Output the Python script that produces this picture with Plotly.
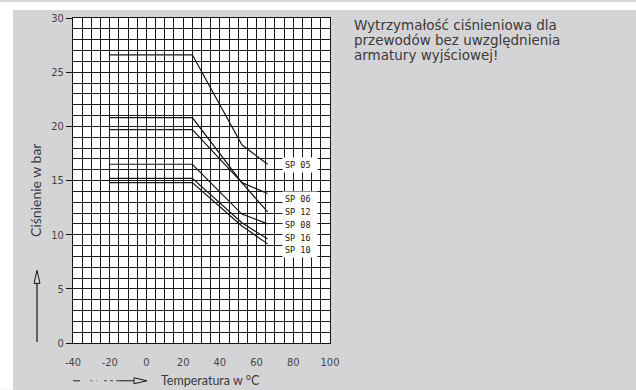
import plotly.graph_objects as go

# Pressure rating curves (bar) versus temperature (degC) per hose series
series_names = ["SP 05", "SP 06", "SP 12", "SP 08", "SP 16", "SP 10"]
temps = [-20, 25, 52, 66]
sp05 = [26.6, 26.6, 18.3, 16.5]
sp06 = [20.8, 20.8, 14.8, 13.8]
sp12 = [19.7, 19.7, 14.8, 12.1]
sp08 = [16.5, 16.5, 11.9, 11.0]
sp16 = [15.2, 15.2, 11.1, 9.6]
sp10 = [14.8, 14.8, 10.8, 9.15]
series_values = [sp05, sp06, sp12, sp08, sp16, sp10]

x_ticks = [-40, -20, 0, 20, 40, 60, 80, 100]
x_tick_text = ["-40", "-20", "0", "20", "40", "60", "80", "100"]
y_ticks = [0, 5, 10, 15, 20, 25, 30]

note_lines = ["Wytrzymałość ciśnieniowa dla",
              "przewodów bez uwzględnienia",
              "armatury wyjściowej!"]

# label placement (data units) for the series tags
label_x = 74
label_y = [16.4, 13.3, 12.05, 10.9, 9.7, 8.6]

W, H = 636, 390
L, R, T, B = 73, 306, 16, 47
PW, PH = W - L - R, H - T - B
BG = "#d4d4d6"
INK = "#151515"
TXT = "#3a3a3a"
GRID = "#1a1a1a"


def px(xp):
    return (xp - L) / PW


def py(yp):
    return (H - B - yp) / PH


fig = go.Figure()
for name, vals in zip(series_names, series_values):
    fig.add_trace(go.Scatter(x=temps, y=vals, mode="lines", name=name,
                             line=dict(color=INK, width=1.2),
                             showlegend=False, hoverinfo="skip"))

annotations = []
for name, ly in zip(series_names, label_y):
    annotations.append(dict(x=label_x, y=ly, xref="x", yref="y", text=name,
                            showarrow=False, xanchor="left", yanchor="middle",
                            align="left", width=30, bgcolor="white", borderpad=2,
                            font=dict(family="DejaVu Sans Mono", size=8.5, color=INK)))

# note block, one annotation per line for a tight line pitch
for i, line in enumerate(note_lines):
    annotations.append(dict(x=px(352), y=py(23 + i * 15), xref="paper", yref="paper",
                            text=line, showarrow=False, xanchor="left", yanchor="middle",
                            font=dict(family="DejaVu Sans", size=13.5, color=TXT)))

annotations.append(dict(x=px(36), y=py(190), xref="paper", yref="paper",
                        text="Ciśnienie w bar", textangle=-90, showarrow=False,
                        xanchor="center", yanchor="middle",
                        font=dict(family="Lato", size=14, color=TXT)))
annotations.append(dict(x=px(159), y=py(381), xref="paper", yref="paper",
                        text="Temperatura w °C", showarrow=False,
                        xanchor="left", yanchor="middle",
                        font=dict(family="Lato", size=12.5, color=TXT)))

shapes = [
    # white margins around the grey panel
    dict(type="rect", xref="paper", yref="paper", x0=px(0), x1=px(W), y0=py(8), y1=py(0),
         fillcolor="white", line=dict(width=0), layer="below"),
    dict(type="rect", xref="paper", yref="paper", x0=px(0), x1=px(13), y0=py(H), y1=py(0),
         fillcolor="white", line=dict(width=0), layer="below"),
    # vertical arrow beside the y title
    dict(type="line", xref="paper", yref="paper", x0=px(37), x1=px(37), y0=py(342), y1=py(282),
         line=dict(color=INK, width=1.2)),
    dict(type="path", xref="paper", yref="paper",
         path=f"M {px(37)} {py(270)} L {px(34)} {py(283)} L {px(40)} {py(283)} Z",
         fillcolor=BG, line=dict(color=INK, width=1)),
    # horizontal arrow before the x title
    dict(type="line", xref="paper", yref="paper", x0=px(73), x1=px(80), y0=py(381), y1=py(381),
         line=dict(color="#444", width=1.2)),
    dict(type="line", xref="paper", yref="paper", x0=px(90), x1=px(97), y0=py(381), y1=py(381),
         line=dict(color="#777", width=1, dash="dot")),
    dict(type="line", xref="paper", yref="paper", x0=px(104), x1=px(119), y0=py(381), y1=py(381),
         line=dict(color="#444", width=1, dash="dot")),
    dict(type="line", xref="paper", yref="paper", x0=px(119), x1=px(134), y0=py(381), y1=py(381),
         line=dict(color=INK, width=1)),
    dict(type="path", xref="paper", yref="paper",
         path=f"M {px(147)} {py(381)} L {px(134)} {py(378)} L {px(134)} {py(384)} Z",
         fillcolor=BG, line=dict(color=INK, width=1)),
]

tick_font = dict(family="DejaVu Sans Condensed", size=11, color="#444")

fig.update_layout(
    width=W, height=H, autosize=False,
    margin=dict(l=L, r=R, t=T, b=B, pad=0),
    paper_bgcolor=BG, plot_bgcolor="white",
    annotations=annotations, shapes=shapes,
    xaxis=dict(range=[-40, 100], tickvals=x_ticks, ticktext=x_tick_text,
               ticks="outside", ticklen=9,
               tickcolor="rgba(0,0,0,0)", tickfont=tick_font,
               showgrid=True, gridcolor=GRID, gridwidth=1,
               minor=dict(dtick=5, tick0=0, showgrid=True, gridcolor=GRID, gridwidth=1),
               showline=True, linecolor=INK, linewidth=1, mirror=True, zeroline=False),
    yaxis=dict(range=[0, 30], tickvals=y_ticks, ticks="outside", ticklen=6,
               tickcolor=INK, tickfont=tick_font,
               showgrid=True, gridcolor=GRID, gridwidth=1,
               minor=dict(dtick=1, tick0=0, showgrid=True, gridcolor=GRID, gridwidth=1),
               showline=True, linecolor=INK, linewidth=1, mirror=True, zeroline=False),
)

fig.write_html("out.html")
